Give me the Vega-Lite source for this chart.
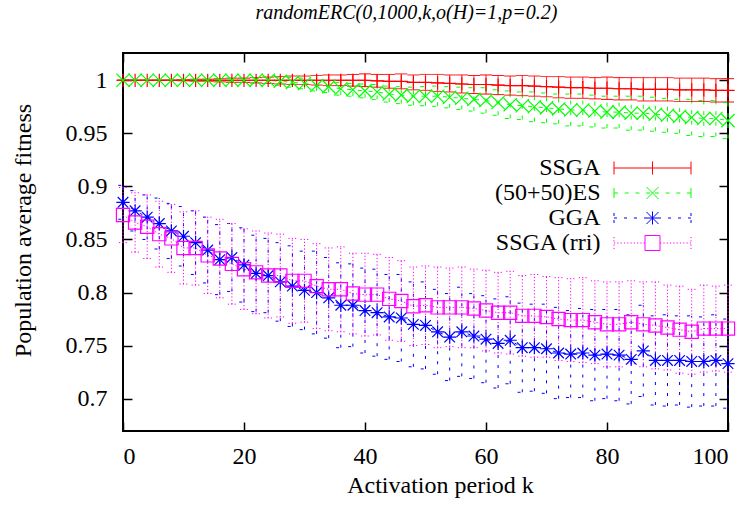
{
  "$schema": "https://vega.github.io/schema/vega-lite/v6.json",
  "width": 605,
  "height": 378,
  "autosize": {"type": "none"},
  "padding": {"left": 123, "top": 53, "right": 21, "bottom": 76},
  "background": "white",
  "title": {
    "text": "randomERC(0,1000,k,o(H)=1,p=0.2)",
    "font": "Liberation Serif",
    "fontSize": 20,
    "fontStyle": "italic",
    "fontWeight": "normal",
    "color": "black",
    "anchor": "middle",
    "baseline": "alphabetic",
    "offset": 22,
    "dx": -19,
    "dy": 9
  },
  "config": {
    "view": {"stroke": "black", "strokeWidth": 2},
    "axis": {
      "grid": false,
      "domain": false,
      "tickColor": "black",
      "tickWidth": 1.5,
      "labelColor": "black",
      "labelFont": "Liberation Serif",
      "labelFontSize": 24,
      "titleFont": "Liberation Serif",
      "titleFontSize": 24,
      "titleFontWeight": "normal",
      "titleColor": "black"
    },
    "legend": {
      "orient": "none",
      "legendX": 517.5,
      "legendY": 103,
      "padding": 0,
      "labelFont": "Liberation Serif",
      "labelFontSize": 24,
      "labelColor": "black",
      "labelAlign": "right",
      "labelOffset": -64,
      "labelLimit": 300,
      "symbolSize": 400,
      "symbolStrokeWidth": 1,
      "rowPadding": 1
    }
  },
  "resolve": {"scale": {"shape": "independent", "size": "independent", "color": "independent"}},
  "datasets": {
    "d": [
      {"s":"SSGA","k":0,"m":1.0,"lo":1.0,"hi":1.0},
      {"s":"SSGA","k":2,"m":1.0,"lo":1.0,"hi":1.0},
      {"s":"SSGA","k":4,"m":1.0,"lo":1.0,"hi":1.0},
      {"s":"SSGA","k":6,"m":1.0,"lo":1.0,"hi":1.0},
      {"s":"SSGA","k":8,"m":1.0,"lo":1.0,"hi":1.0},
      {"s":"SSGA","k":10,"m":1.0,"lo":0.9995,"hi":1.0005},
      {"s":"SSGA","k":12,"m":1.0,"lo":0.999,"hi":1.001},
      {"s":"SSGA","k":14,"m":1.0,"lo":0.999,"hi":1.001},
      {"s":"SSGA","k":16,"m":1.0,"lo":0.9985,"hi":1.0015},
      {"s":"SSGA","k":18,"m":1.0,"lo":0.998,"hi":1.002},
      {"s":"SSGA","k":20,"m":1.0,"lo":0.998,"hi":1.002},
      {"s":"SSGA","k":22,"m":1.0,"lo":0.9975,"hi":1.0025},
      {"s":"SSGA","k":24,"m":1.0,"lo":0.997,"hi":1.003},
      {"s":"SSGA","k":26,"m":1.0,"lo":0.9965,"hi":1.0035},
      {"s":"SSGA","k":28,"m":1.0,"lo":0.996,"hi":1.004},
      {"s":"SSGA","k":30,"m":1.0,"lo":0.996,"hi":1.004},
      {"s":"SSGA","k":32,"m":1.0,"lo":0.9955,"hi":1.0045},
      {"s":"SSGA","k":34,"m":1.0,"lo":0.995,"hi":1.005},
      {"s":"SSGA","k":36,"m":1.0,"lo":0.995,"hi":1.005},
      {"s":"SSGA","k":38,"m":1.0,"lo":0.9945,"hi":1.0055},
      {"s":"SSGA","k":40,"m":1.0,"lo":0.994,"hi":1.006},
      {"s":"SSGA","k":42,"m":0.9995,"lo":0.9935,"hi":1.0055},
      {"s":"SSGA","k":44,"m":0.999,"lo":0.9925,"hi":1.0055},
      {"s":"SSGA","k":46,"m":0.999,"lo":0.992,"hi":1.006},
      {"s":"SSGA","k":48,"m":0.998,"lo":0.991,"hi":1.005},
      {"s":"SSGA","k":50,"m":0.998,"lo":0.9905,"hi":1.0055},
      {"s":"SSGA","k":52,"m":0.9975,"lo":0.9895,"hi":1.0055},
      {"s":"SSGA","k":54,"m":0.997,"lo":0.989,"hi":1.005},
      {"s":"SSGA","k":56,"m":0.9965,"lo":0.988,"hi":1.005},
      {"s":"SSGA","k":58,"m":0.996,"lo":0.9875,"hi":1.0045},
      {"s":"SSGA","k":60,"m":0.996,"lo":0.987,"hi":1.005},
      {"s":"SSGA","k":62,"m":0.9955,"lo":0.9865,"hi":1.0045},
      {"s":"SSGA","k":64,"m":0.995,"lo":0.986,"hi":1.004},
      {"s":"SSGA","k":66,"m":0.995,"lo":0.9855,"hi":1.0045},
      {"s":"SSGA","k":68,"m":0.9945,"lo":0.985,"hi":1.004},
      {"s":"SSGA","k":70,"m":0.994,"lo":0.9845,"hi":1.0035},
      {"s":"SSGA","k":72,"m":0.9935,"lo":0.9835,"hi":1.0035},
      {"s":"SSGA","k":74,"m":0.993,"lo":0.983,"hi":1.003},
      {"s":"SSGA","k":76,"m":0.993,"lo":0.983,"hi":1.003},
      {"s":"SSGA","k":78,"m":0.9925,"lo":0.9825,"hi":1.0025},
      {"s":"SSGA","k":80,"m":0.9925,"lo":0.982,"hi":1.003},
      {"s":"SSGA","k":82,"m":0.992,"lo":0.9815,"hi":1.0025},
      {"s":"SSGA","k":84,"m":0.992,"lo":0.9815,"hi":1.0025},
      {"s":"SSGA","k":86,"m":0.9915,"lo":0.9805,"hi":1.0025},
      {"s":"SSGA","k":88,"m":0.9915,"lo":0.9805,"hi":1.0025},
      {"s":"SSGA","k":90,"m":0.9915,"lo":0.9805,"hi":1.0025},
      {"s":"SSGA","k":92,"m":0.991,"lo":0.98,"hi":1.002},
      {"s":"SSGA","k":94,"m":0.991,"lo":0.98,"hi":1.002},
      {"s":"SSGA","k":96,"m":0.991,"lo":0.98,"hi":1.002},
      {"s":"SSGA","k":98,"m":0.9905,"lo":0.9795,"hi":1.0015},
      {"s":"SSGA","k":100,"m":0.9905,"lo":0.9795,"hi":1.0015},

      {"s":"(50+50)ES","k":0,"m":1.0,"lo":1.0,"hi":1.0},
      {"s":"(50+50)ES","k":2,"m":1.0,"lo":1.0,"hi":1.0},
      {"s":"(50+50)ES","k":4,"m":1.0,"lo":1.0,"hi":1.0},
      {"s":"(50+50)ES","k":6,"m":1.0,"lo":1.0,"hi":1.0},
      {"s":"(50+50)ES","k":8,"m":1.0,"lo":1.0,"hi":1.0},
      {"s":"(50+50)ES","k":10,"m":1.0,"lo":1.0,"hi":1.0},
      {"s":"(50+50)ES","k":12,"m":1.0,"lo":0.9995,"hi":1.0005},
      {"s":"(50+50)ES","k":14,"m":1.0,"lo":0.999,"hi":1.001},
      {"s":"(50+50)ES","k":16,"m":1.0,"lo":0.999,"hi":1.001},
      {"s":"(50+50)ES","k":18,"m":1.0,"lo":0.9985,"hi":1.0015},
      {"s":"(50+50)ES","k":20,"m":1.0,"lo":0.998,"hi":1.002},
      {"s":"(50+50)ES","k":22,"m":1.0,"lo":0.9975,"hi":1.0025},
      {"s":"(50+50)ES","k":24,"m":1.0,"lo":0.997,"hi":1.003},
      {"s":"(50+50)ES","k":26,"m":0.999,"lo":0.995,"hi":1.003},
      {"s":"(50+50)ES","k":28,"m":0.998,"lo":0.9935,"hi":1.0025},
      {"s":"(50+50)ES","k":30,"m":0.997,"lo":0.992,"hi":1.002},
      {"s":"(50+50)ES","k":32,"m":0.995,"lo":0.99,"hi":1.0},
      {"s":"(50+50)ES","k":34,"m":0.994,"lo":0.9885,"hi":0.9995},
      {"s":"(50+50)ES","k":36,"m":0.992,"lo":0.986,"hi":0.998},
      {"s":"(50+50)ES","k":38,"m":0.991,"lo":0.985,"hi":0.997},
      {"s":"(50+50)ES","k":40,"m":0.99,"lo":0.9835,"hi":0.9965},
      {"s":"(50+50)ES","k":42,"m":0.989,"lo":0.982,"hi":0.996},
      {"s":"(50+50)ES","k":44,"m":0.987,"lo":0.9795,"hi":0.9945},
      {"s":"(50+50)ES","k":46,"m":0.986,"lo":0.978,"hi":0.994},
      {"s":"(50+50)ES","k":48,"m":0.985,"lo":0.9765,"hi":0.9935},
      {"s":"(50+50)ES","k":50,"m":0.985,"lo":0.976,"hi":0.994},
      {"s":"(50+50)ES","k":52,"m":0.985,"lo":0.9755,"hi":0.9945},
      {"s":"(50+50)ES","k":54,"m":0.984,"lo":0.974,"hi":0.994},
      {"s":"(50+50)ES","k":56,"m":0.983,"lo":0.9725,"hi":0.9935},
      {"s":"(50+50)ES","k":58,"m":0.982,"lo":0.971,"hi":0.993},
      {"s":"(50+50)ES","k":60,"m":0.981,"lo":0.969,"hi":0.993},
      {"s":"(50+50)ES","k":62,"m":0.979,"lo":0.967,"hi":0.991},
      {"s":"(50+50)ES","k":64,"m":0.977,"lo":0.964,"hi":0.99},
      {"s":"(50+50)ES","k":66,"m":0.976,"lo":0.963,"hi":0.989},
      {"s":"(50+50)ES","k":68,"m":0.975,"lo":0.961,"hi":0.989},
      {"s":"(50+50)ES","k":70,"m":0.974,"lo":0.96,"hi":0.988},
      {"s":"(50+50)ES","k":72,"m":0.973,"lo":0.959,"hi":0.987},
      {"s":"(50+50)ES","k":74,"m":0.972,"lo":0.957,"hi":0.987},
      {"s":"(50+50)ES","k":76,"m":0.972,"lo":0.957,"hi":0.987},
      {"s":"(50+50)ES","k":78,"m":0.971,"lo":0.956,"hi":0.986},
      {"s":"(50+50)ES","k":80,"m":0.97,"lo":0.955,"hi":0.985},
      {"s":"(50+50)ES","k":82,"m":0.97,"lo":0.955,"hi":0.985},
      {"s":"(50+50)ES","k":84,"m":0.969,"lo":0.953,"hi":0.985},
      {"s":"(50+50)ES","k":86,"m":0.969,"lo":0.953,"hi":0.985},
      {"s":"(50+50)ES","k":88,"m":0.968,"lo":0.952,"hi":0.984},
      {"s":"(50+50)ES","k":90,"m":0.967,"lo":0.951,"hi":0.983},
      {"s":"(50+50)ES","k":92,"m":0.966,"lo":0.95,"hi":0.982},
      {"s":"(50+50)ES","k":94,"m":0.965,"lo":0.948,"hi":0.982},
      {"s":"(50+50)ES","k":96,"m":0.964,"lo":0.947,"hi":0.981},
      {"s":"(50+50)ES","k":98,"m":0.964,"lo":0.947,"hi":0.981},
      {"s":"(50+50)ES","k":100,"m":0.962,"lo":0.945,"hi":0.979},

      {"s":"GGA","k":0,"m":0.885,"lo":0.869,"hi":0.901},
      {"s":"GGA","k":2,"m":0.877,"lo":0.858,"hi":0.896},
      {"s":"GGA","k":4,"m":0.871,"lo":0.85,"hi":0.892},
      {"s":"GGA","k":6,"m":0.865,"lo":0.841,"hi":0.889},
      {"s":"GGA","k":8,"m":0.858,"lo":0.832,"hi":0.884},
      {"s":"GGA","k":10,"m":0.853,"lo":0.825,"hi":0.881},
      {"s":"GGA","k":12,"m":0.847,"lo":0.817,"hi":0.877},
      {"s":"GGA","k":14,"m":0.84,"lo":0.809,"hi":0.871},
      {"s":"GGA","k":16,"m":0.831,"lo":0.798,"hi":0.864},
      {"s":"GGA","k":18,"m":0.833,"lo":0.801,"hi":0.865},
      {"s":"GGA","k":20,"m":0.826,"lo":0.791,"hi":0.861},
      {"s":"GGA","k":22,"m":0.818,"lo":0.782,"hi":0.854},
      {"s":"GGA","k":24,"m":0.816,"lo":0.781,"hi":0.851},
      {"s":"GGA","k":26,"m":0.81,"lo":0.773,"hi":0.847},
      {"s":"GGA","k":28,"m":0.806,"lo":0.768,"hi":0.844},
      {"s":"GGA","k":30,"m":0.802,"lo":0.765,"hi":0.839},
      {"s":"GGA","k":32,"m":0.8,"lo":0.761,"hi":0.839},
      {"s":"GGA","k":34,"m":0.795,"lo":0.757,"hi":0.833},
      {"s":"GGA","k":36,"m":0.788,"lo":0.748,"hi":0.828},
      {"s":"GGA","k":38,"m":0.788,"lo":0.749,"hi":0.827},
      {"s":"GGA","k":40,"m":0.783,"lo":0.743,"hi":0.823},
      {"s":"GGA","k":42,"m":0.781,"lo":0.74,"hi":0.822},
      {"s":"GGA","k":44,"m":0.777,"lo":0.737,"hi":0.817},
      {"s":"GGA","k":46,"m":0.776,"lo":0.735,"hi":0.817},
      {"s":"GGA","k":48,"m":0.77,"lo":0.73,"hi":0.81},
      {"s":"GGA","k":50,"m":0.769,"lo":0.728,"hi":0.81},
      {"s":"GGA","k":52,"m":0.763,"lo":0.723,"hi":0.803},
      {"s":"GGA","k":54,"m":0.758,"lo":0.717,"hi":0.799},
      {"s":"GGA","k":56,"m":0.763,"lo":0.721,"hi":0.805},
      {"s":"GGA","k":58,"m":0.759,"lo":0.719,"hi":0.799},
      {"s":"GGA","k":60,"m":0.756,"lo":0.715,"hi":0.797},
      {"s":"GGA","k":62,"m":0.752,"lo":0.71,"hi":0.794},
      {"s":"GGA","k":64,"m":0.755,"lo":0.714,"hi":0.796},
      {"s":"GGA","k":66,"m":0.748,"lo":0.706,"hi":0.79},
      {"s":"GGA","k":68,"m":0.748,"lo":0.707,"hi":0.789},
      {"s":"GGA","k":70,"m":0.747,"lo":0.705,"hi":0.789},
      {"s":"GGA","k":72,"m":0.743,"lo":0.7,"hi":0.786},
      {"s":"GGA","k":74,"m":0.742,"lo":0.701,"hi":0.783},
      {"s":"GGA","k":76,"m":0.743,"lo":0.701,"hi":0.785},
      {"s":"GGA","k":78,"m":0.741,"lo":0.698,"hi":0.784},
      {"s":"GGA","k":80,"m":0.742,"lo":0.7,"hi":0.784},
      {"s":"GGA","k":82,"m":0.741,"lo":0.698,"hi":0.784},
      {"s":"GGA","k":84,"m":0.737,"lo":0.695,"hi":0.779},
      {"s":"GGA","k":86,"m":0.745,"lo":0.702,"hi":0.788},
      {"s":"GGA","k":88,"m":0.736,"lo":0.694,"hi":0.778},
      {"s":"GGA","k":90,"m":0.736,"lo":0.693,"hi":0.779},
      {"s":"GGA","k":92,"m":0.736,"lo":0.694,"hi":0.778},
      {"s":"GGA","k":94,"m":0.735,"lo":0.692,"hi":0.778},
      {"s":"GGA","k":96,"m":0.735,"lo":0.693,"hi":0.777},
      {"s":"GGA","k":98,"m":0.736,"lo":0.693,"hi":0.779},
      {"s":"GGA","k":100,"m":0.733,"lo":0.691,"hi":0.775},

      {"s":"SSGA (rri)","k":0,"m":0.873,"lo":0.847,"hi":0.899},
      {"s":"SSGA (rri)","k":2,"m":0.866,"lo":0.838,"hi":0.894},
      {"s":"SSGA (rri)","k":4,"m":0.862,"lo":0.832,"hi":0.892},
      {"s":"SSGA (rri)","k":6,"m":0.855,"lo":0.824,"hi":0.886},
      {"s":"SSGA (rri)","k":8,"m":0.851,"lo":0.819,"hi":0.883},
      {"s":"SSGA (rri)","k":10,"m":0.842,"lo":0.808,"hi":0.876},
      {"s":"SSGA (rri)","k":12,"m":0.842,"lo":0.807,"hi":0.877},
      {"s":"SSGA (rri)","k":14,"m":0.835,"lo":0.799,"hi":0.871},
      {"s":"SSGA (rri)","k":16,"m":0.832,"lo":0.795,"hi":0.869},
      {"s":"SSGA (rri)","k":18,"m":0.827,"lo":0.789,"hi":0.865},
      {"s":"SSGA (rri)","k":20,"m":0.822,"lo":0.784,"hi":0.86},
      {"s":"SSGA (rri)","k":22,"m":0.819,"lo":0.78,"hi":0.858},
      {"s":"SSGA (rri)","k":24,"m":0.816,"lo":0.776,"hi":0.856},
      {"s":"SSGA (rri)","k":26,"m":0.816,"lo":0.777,"hi":0.855},
      {"s":"SSGA (rri)","k":28,"m":0.811,"lo":0.771,"hi":0.851},
      {"s":"SSGA (rri)","k":30,"m":0.811,"lo":0.772,"hi":0.85},
      {"s":"SSGA (rri)","k":32,"m":0.806,"lo":0.766,"hi":0.846},
      {"s":"SSGA (rri)","k":34,"m":0.803,"lo":0.764,"hi":0.842},
      {"s":"SSGA (rri)","k":36,"m":0.803,"lo":0.763,"hi":0.843},
      {"s":"SSGA (rri)","k":38,"m":0.799,"lo":0.761,"hi":0.837},
      {"s":"SSGA (rri)","k":40,"m":0.798,"lo":0.759,"hi":0.837},
      {"s":"SSGA (rri)","k":42,"m":0.798,"lo":0.76,"hi":0.836},
      {"s":"SSGA (rri)","k":44,"m":0.794,"lo":0.755,"hi":0.833},
      {"s":"SSGA (rri)","k":46,"m":0.792,"lo":0.754,"hi":0.83},
      {"s":"SSGA (rri)","k":48,"m":0.787,"lo":0.75,"hi":0.824},
      {"s":"SSGA (rri)","k":50,"m":0.788,"lo":0.751,"hi":0.825},
      {"s":"SSGA (rri)","k":52,"m":0.786,"lo":0.748,"hi":0.824},
      {"s":"SSGA (rri)","k":54,"m":0.786,"lo":0.749,"hi":0.823},
      {"s":"SSGA (rri)","k":56,"m":0.786,"lo":0.748,"hi":0.824},
      {"s":"SSGA (rri)","k":58,"m":0.785,"lo":0.748,"hi":0.822},
      {"s":"SSGA (rri)","k":60,"m":0.783,"lo":0.745,"hi":0.821},
      {"s":"SSGA (rri)","k":62,"m":0.781,"lo":0.743,"hi":0.819},
      {"s":"SSGA (rri)","k":64,"m":0.781,"lo":0.742,"hi":0.82},
      {"s":"SSGA (rri)","k":66,"m":0.778,"lo":0.74,"hi":0.816},
      {"s":"SSGA (rri)","k":68,"m":0.778,"lo":0.739,"hi":0.817},
      {"s":"SSGA (rri)","k":70,"m":0.777,"lo":0.739,"hi":0.815},
      {"s":"SSGA (rri)","k":72,"m":0.775,"lo":0.736,"hi":0.814},
      {"s":"SSGA (rri)","k":74,"m":0.774,"lo":0.735,"hi":0.813},
      {"s":"SSGA (rri)","k":76,"m":0.774,"lo":0.734,"hi":0.814},
      {"s":"SSGA (rri)","k":78,"m":0.772,"lo":0.733,"hi":0.811},
      {"s":"SSGA (rri)","k":80,"m":0.77,"lo":0.73,"hi":0.81},
      {"s":"SSGA (rri)","k":82,"m":0.77,"lo":0.73,"hi":0.81},
      {"s":"SSGA (rri)","k":84,"m":0.772,"lo":0.733,"hi":0.811},
      {"s":"SSGA (rri)","k":86,"m":0.77,"lo":0.73,"hi":0.81},
      {"s":"SSGA (rri)","k":88,"m":0.769,"lo":0.728,"hi":0.81},
      {"s":"SSGA (rri)","k":90,"m":0.767,"lo":0.727,"hi":0.807},
      {"s":"SSGA (rri)","k":92,"m":0.765,"lo":0.724,"hi":0.806},
      {"s":"SSGA (rri)","k":94,"m":0.763,"lo":0.723,"hi":0.803},
      {"s":"SSGA (rri)","k":96,"m":0.766,"lo":0.725,"hi":0.807},
      {"s":"SSGA (rri)","k":98,"m":0.766,"lo":0.726,"hi":0.806},
      {"s":"SSGA (rri)","k":100,"m":0.766,"lo":0.725,"hi":0.807}
    ]
  },
  "data": {"name": "d"},
  "layer": [
    {
      "mark": {"type": "line", "strokeWidth": 1, "clip": false},
      "encoding": {
        "x": {"field": "k", "type": "quantitative",
          "scale": {"domain": [0, 100], "nice": false, "zero": false},
          "axis": {"orient": "bottom", "values": [0, 20, 40, 60, 80, 100], "tickSize": -9, "labelPadding": 22, "title": "Activation period k", "titleX": 317, "titleY": 54, "titleBaseline": "middle", "titleAlign": "center"}},
        "y": {"field": "m", "type": "quantitative",
          "scale": {"domain": [0.6695, 1.0257], "nice": false, "zero": false},
          "axis": {"orient": "left", "values": [0.7, 0.75, 0.8, 0.85, 0.9, 0.95, 1], "format": "~g", "tickSize": -9, "labelPadding": 25, "title": "Population average fitness", "titleX": -100, "titleY": 177, "titleBaseline": "middle", "titleAlign": "center", "titleAngle": -90}},
        "color": {"field": "s", "type": "nominal",
          "scale": {"domain": ["SSGA", "(50+50)ES", "GGA", "SSGA (rri)"], "range": ["#ff0000", "#00ff00", "#0000ff", "#ff00ff"]},
          "legend": null},
        "strokeDash": {"field": "s", "type": "nominal",
          "scale": {"domain": ["SSGA", "(50+50)ES", "GGA", "SSGA (rri)"], "range": [[1, 0], [4, 6.7], [3, 7], [1.2, 2.1]]},
          "legend": null}
      }
    },
    {
      "mark": {"type": "rule", "strokeWidth": 1, "clip": false},
      "encoding": {
        "x": {"field": "k", "type": "quantitative", "axis": null},
        "y": {"field": "lo", "type": "quantitative", "axis": null},
        "y2": {"field": "hi"},
        "color": {"field": "s", "type": "nominal", "scale": {"domain": ["SSGA", "(50+50)ES", "GGA", "SSGA (rri)"], "range": ["#ff0000", "#00ff00", "#0000ff", "#ff00ff"]}, "legend": null},
        "strokeDash": {"field": "s", "type": "nominal", "legend": null}
      }
    },
    {
      "mark": {"type": "point", "shape": "M-1,0L1,0", "filled": false, "strokeWidth": 1, "opacity": 1, "clip": false},
      "encoding": {
        "x": {"field": "k", "type": "quantitative", "axis": null},
        "y": {"field": "lo", "type": "quantitative", "axis": null},
        "color": {"field": "s", "type": "nominal", "scale": {"domain": ["SSGA", "(50+50)ES", "GGA", "SSGA (rri)"], "range": ["#ff0000", "#00ff00", "#0000ff", "#ff00ff"]}, "legend": null},
        "strokeDash": {"field": "s", "type": "nominal", "legend": null},
        "size": {"field": "s", "type": "nominal", "scale": {"domain": ["SSGA", "(50+50)ES", "GGA", "SSGA (rri)"], "range": [144, 64, 64, 64]}, "legend": null}
      }
    },
    {
      "mark": {"type": "point", "shape": "M-1,0L1,0", "filled": false, "strokeWidth": 1, "opacity": 1, "clip": false},
      "encoding": {
        "x": {"field": "k", "type": "quantitative", "axis": null},
        "y": {"field": "hi", "type": "quantitative", "axis": null},
        "color": {"field": "s", "type": "nominal", "scale": {"domain": ["SSGA", "(50+50)ES", "GGA", "SSGA (rri)"], "range": ["#ff0000", "#00ff00", "#0000ff", "#ff00ff"]}, "legend": null},
        "strokeDash": {"field": "s", "type": "nominal", "legend": null},
        "size": {"field": "s", "type": "nominal", "scale": {"domain": ["SSGA", "(50+50)ES", "GGA", "SSGA (rri)"], "range": [144, 64, 64, 64]}, "legend": null}
      }
    },
    {
      "mark": {"type": "point", "size": 175, "filled": false, "strokeWidth": 1.2, "opacity": 1, "clip": false},
      "encoding": {
        "x": {"field": "k", "type": "quantitative",
          "axis": {"orient": "top", "values": [0, 20, 40, 60, 80, 100], "tickSize": -9, "labels": false, "title": null}},
        "y": {"field": "m", "type": "quantitative",
          "axis": {"orient": "right", "values": [0.7, 0.75, 0.8, 0.85, 0.9, 0.95, 1], "tickSize": -9, "labels": false, "title": null}},
        "color": {"field": "s", "type": "nominal", "scale": {"domain": ["SSGA", "(50+50)ES", "GGA", "SSGA (rri)"], "range": ["#ff0000", "#00ff00", "#0000ff", "#ff00ff"]}, "legend": null},
        "shape": {"field": "s", "type": "nominal",
          "scale": {"domain": ["SSGA", "(50+50)ES", "GGA", "SSGA (rri)"], "range": ["M-1,0L1,0M0,-1L0,1", "M-1,-1L1,1M-1,1L1,-1", "M-1,0L1,0M0,-1L0,1M-0.8,-0.8L0.8,0.8M-0.8,0.8L0.8,-0.8", "square"]},
          "legend": null}
      }
    },
    {
      "transform": [{"filter": "false"}],
      "mark": {"type": "point", "size": 400, "filled": false, "strokeWidth": 1, "opacity": 1},
      "encoding": {
        "x": {"field": "k", "type": "quantitative", "axis": null},
        "y": {"field": "m", "type": "quantitative", "axis": null},
        "color": {"field": "s", "type": "nominal", "scale": {"domain": ["SSGA", "(50+50)ES", "GGA", "SSGA (rri)"], "range": ["#ff0000", "#00ff00", "#0000ff", "#ff00ff"]}, "legend": {"title": null}},
        "shape": {"field": "s", "type": "nominal",
          "scale": {"domain": ["SSGA", "(50+50)ES", "GGA", "SSGA (rri)"], "range": [
            "M-3.85,0L3.85,0M-3.85,-0.65L-3.85,0.65M3.85,-0.65L3.85,0.65M0,-0.65L0,0.65",
            "M-3.85,0L-3.45,0M-2.78,0L-2.38,0M-1.71,0L-1.31,0M-0.64,0L-0.24,0M0.24,0L0.64,0M1.31,0L1.71,0M2.38,0L2.78,0M3.45,0L3.85,0M-3.85,-0.5L-3.85,0.5M3.85,-0.5L3.85,0.5M-0.6,-0.6L0.6,0.6M-0.6,0.6L0.6,-0.6",
            "M-3.85,0L-3.55,0M-2.85,0L-2.55,0M-1.85,0L-1.55,0M-0.85,0L-0.65,0M0.65,0L0.85,0M1.55,0L1.85,0M2.55,0L2.85,0M3.55,0L3.85,0M-3.85,-0.5L-3.85,-0.2M-3.85,0.2L-3.85,0.5M3.85,-0.5L3.85,-0.2M3.85,0.2L3.85,0.5M-0.65,0L0.65,0M0,-0.65L0,0.65M-0.6,-0.6L0.6,0.6M-0.6,0.6L0.6,-0.6",
            "M-3.85,0L-3.73,0M-3.52,0L-3.4,0M-3.19,0L-3.07,0M-2.86,0L-2.74,0M-2.53,0L-2.41,0M-2.2,0L-2.08,0M-1.87,0L-1.75,0M-1.54,0L-1.42,0M-1.21,0L-1.09,0M-0.88,0L-0.76,0M0.76,0L0.88,0M1.09,0L1.21,0M1.42,0L1.54,0M1.75,0L1.87,0M2.08,0L2.2,0M2.41,0L2.53,0M2.74,0L2.86,0M3.07,0L3.19,0M3.4,0L3.52,0M3.73,0L3.85,0M-3.85,-0.6L-3.85,-0.48M-3.85,-0.27L-3.85,-0.15M-3.85,0.15L-3.85,0.27M-3.85,0.48L-3.85,0.6M3.85,-0.6L3.85,-0.48M3.85,-0.27L3.85,-0.15M3.85,0.15L3.85,0.27M3.85,0.48L3.85,0.6M-0.75,-0.75L0.75,-0.75L0.75,0.75L-0.75,0.75Z"
          ]},
          "legend": {"title": null}}
      }
    }
  ]
}
